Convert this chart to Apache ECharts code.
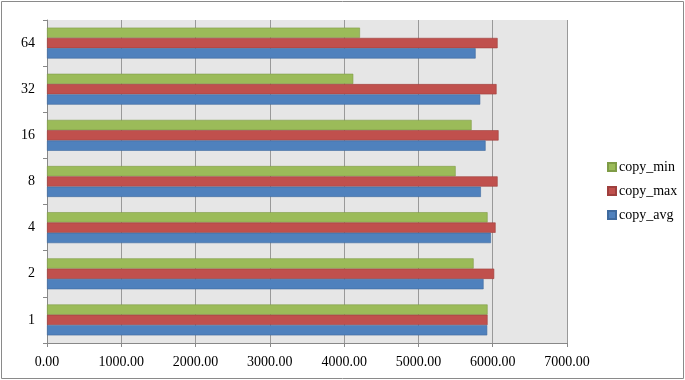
<!DOCTYPE html>
<html>
<head>
<meta charset="utf-8">
<script src="https://cdn.jsdelivr.net/npm/echarts@6/dist/echarts.min.js"></script>
<style>
html,body{margin:0;padding:0;background:#fff;}
#c{width:685px;height:380px;}
</style>
</head>
<body>
<div id="c"></div>
<script>
var categories = ['1', '2', '4', '8', '16', '32', '64'];
var copyAvg = [5926, 5877, 5976, 5841, 5904, 5832, 5770];
var copyMax = [5931, 6020, 6039, 6066, 6079, 6052, 6066];
var copyMin = [5931, 5743, 5931, 5501, 5716, 4123, 4213];
var xTicks = {min: 0, max: 7000, interval: 1000};

var chart = echarts.init(document.getElementById('c'));
var font = '"Liberation Serif", "DejaVu Serif", serif';
function barSeries(name, data, color, border) {
  return {
    name: name, type: 'bar', data: data,
    barGap: '0%', barCategoryGap: '33%',
    itemStyle: {color: color, borderColor: border, borderWidth: 0.6},
    animation: false
  };
}
chart.setOption({
  animation: false,
  graphic: [{
    type: 'rect', shape: {x: 1.5, y: 1.5, width: 682, height: 377},
    style: {fill: 'none', stroke: '#8a8a8a', lineWidth: 1}, silent: true
  }],
  grid: {left: 47, right: 118, top: 20, bottom: 37, show: true, backgroundColor: '#e6e6e6', borderWidth: 0},
  legend: {
    orient: 'vertical', left: 602, top: 155,
    data: ['copy_min', 'copy_max', 'copy_avg'],
    icon: 'rect', itemWidth: 8, itemHeight: 8, itemGap: 10,
    textStyle: {fontFamily: font, fontSize: 14, color: '#000', padding: [0, 0, 0, -2]}
  },
  xAxis: {
    type: 'value', min: xTicks.min, max: xTicks.max, interval: xTicks.interval,
    axisLine: {show: true, lineStyle: {color: '#888'}},
    axisTick: {show: true, length: 4, lineStyle: {color: '#888'}},
    splitLine: {show: true, lineStyle: {color: '#999', width: 1}},
    axisLabel: {fontFamily: font, fontSize: 14, color: '#000', margin: 12,
      formatter: function (v) { return v.toFixed(2); }}
  },
  yAxis: {
    type: 'category', data: categories,
    axisLine: {show: true, lineStyle: {color: '#888'}},
    axisTick: {show: true, length: 4, lineStyle: {color: '#888'}},
    splitLine: {show: false},
    axisLabel: {fontFamily: font, fontSize: 14, color: '#000', margin: 12}
  },
  series: [
    barSeries('copy_min', copyMin, '#9bbb59', '#7f9c46'),
    barSeries('copy_max', copyMax, '#c0504d', '#9e3f3d'),
    barSeries('copy_avg', copyAvg, '#4f81bd', '#3f6a9e')
  ]
});
</script>
</body>
</html>
